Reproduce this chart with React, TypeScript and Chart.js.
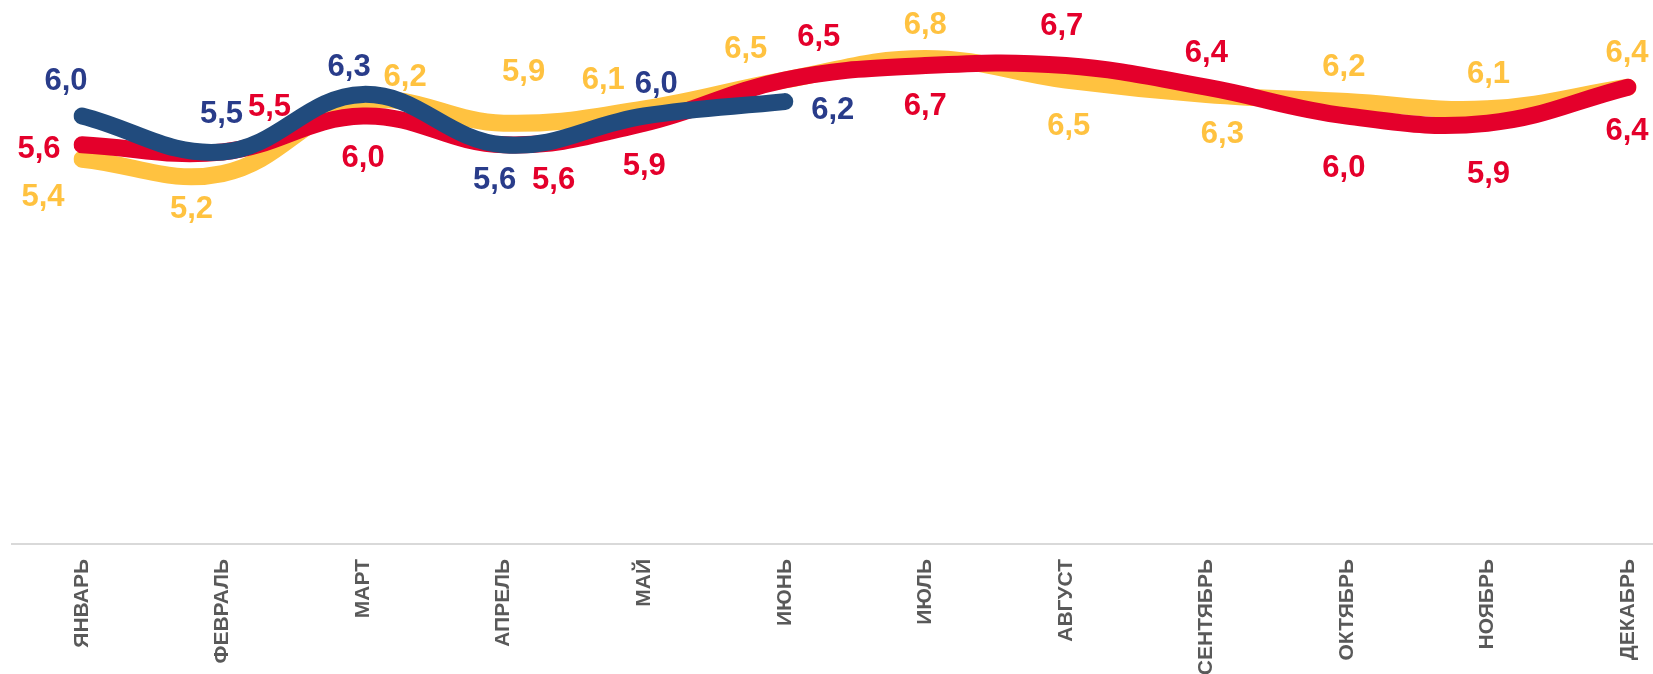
import React, { useEffect, useRef } from "react";
import { Chart, registerables } from "chart.js";

Chart.register(...registerables);

const months = ["ЯНВАРЬ", "ФЕВРАЛЬ", "МАРТ", "АПРЕЛЬ", "МАЙ", "ИЮНЬ", "ИЮЛЬ", "АВГУСТ", "СЕНТЯБРЬ", "ОКТЯБРЬ", "НОЯБРЬ", "ДЕКАБРЬ"];

const yellowValues = [5.4, 5.2, 6.2, 5.9, 6.1, 6.5, 6.8, 6.5, 6.3, 6.2, 6.1, 6.4];
const redValues = [5.6, 5.5, 6.0, 5.6, 5.9, 6.5, 6.7, 6.7, 6.4, 6.0, 5.9, 6.4];
const navyValues = [6.0, 5.5, 6.3, 5.6, 6.0, 6.2];

// label offsets (dx, dy) in px relative to each point – style only
const yellowLabelOffsets = [[-39, 38], [-31, 36], [42, -24], [20, -51], [-41, -28], [-39, -31], [0, -33], [3, 46], [16, 40], [-3, -34], [1, -34], [-1, -34]];
const redLabelOffsets = [[-43, 5], [47, -45], [0, 42], [50, 36], [0, 43], [34, -43], [0, 41], [-4, -39], [0, -34], [-3, 52], [1, 51], [-1, 44]];
const navyLabelOffsets = [[-16, -35], [-1, -38], [-14, -27], [-9, 36], [12, -32], [48, 9]];

const YELLOW = "#FFC240";
const RED = "#E4002B";
const NAVY_LINE = "#214B7D";
const NAVY_TEXT = "#293C8A";

const fmt = (v: number) => v.toFixed(1).replace(".", ",");

const labelPlugin = {
  id: "customLabels",
  beforeDatasetsDraw(chart: any) {
    const { ctx, chartArea } = chart;
    ctx.save();
    ctx.strokeStyle = "#D9D9D9";
    ctx.lineWidth = 2;
    ctx.beginPath();
    ctx.moveTo(11, chartArea.bottom - 4);
    ctx.lineTo(chart.width, chartArea.bottom - 4);
    ctx.stroke();
    ctx.restore();
  },
  afterDatasetsDraw(chart: any) {
    const { ctx } = chart;
    ctx.save();
    ctx.font = "bold 31px 'Liberation Sans', Arial, sans-serif";
    ctx.textAlign = "center";
    ctx.textBaseline = "middle";
    chart.data.datasets.forEach((ds: any, di: number) => {
      const meta = chart.getDatasetMeta(di);
      ctx.fillStyle = ds.labelColor;
      ds.data.forEach((v: number, i: number) => {
        const el = meta.data[i];
        if (!el) return;
        const off = ds.labelOffsets[i] || [0, -30];
        ctx.fillText(fmt(v), el.x + off[0], el.y + off[1]);
      });
    });
    ctx.restore();
  },
};

const lineStyle = {
  borderWidth: 17,
  tension: 0.4,
  pointRadius: 0,
  borderCapStyle: "round",
  borderJoinStyle: "round",
  fill: false,
};

export default function App() {
  const canvasRef = useRef<HTMLCanvasElement | null>(null);

  useEffect(() => {
    if (!canvasRef.current) return;
    const chart = new Chart(canvasRef.current, {
      type: "line",
      data: {
        labels: months,
        datasets: [
          { ...lineStyle, data: navyValues, borderColor: NAVY_LINE, labelColor: NAVY_TEXT, labelOffsets: navyLabelOffsets } as any,
          { ...lineStyle, data: redValues, borderColor: RED, labelColor: RED, labelOffsets: redLabelOffsets } as any,
          { ...lineStyle, data: yellowValues, borderColor: YELLOW, labelColor: YELLOW, labelOffsets: yellowLabelOffsets } as any,
        ],
      },
      options: {
        animation: false,
        responsive: true,
        maintainAspectRatio: false,
        layout: { padding: { left: 82, right: 25, top: 8, bottom: 0 } },
        plugins: { legend: { display: false }, tooltip: { enabled: false } },
        scales: {
          x: {
            offset: false,
            grid: { display: false, drawTicks: false },
            border: { display: false },
            ticks: {
              minRotation: 90,
              maxRotation: 90,
              padding: 11,
              color: "#595959",
              font: { family: "'Liberation Sans', Arial, sans-serif", size: 21, weight: "bold" },
            },
            afterFit: (scale: any) => {
              scale.height = 126;
              scale.paddingLeft = 0;
              scale.paddingRight = 0;
            },
          },
          y: { display: false, min: 0, max: 7.5 },
        },
      },
      plugins: [labelPlugin],
    });
    return () => chart.destroy();
  }, []);

  return (
    <div style={{ position: "fixed", left: 0, top: 0, width: 1653, height: 674, background: "#fff" }}>
      <canvas ref={canvasRef} />
    </div>
  );
}
